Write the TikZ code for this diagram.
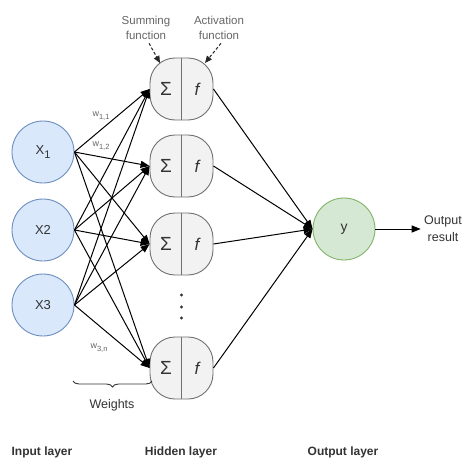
\documentclass[tikz,border=0pt]{standalone}
\usepackage{fontspec}
\setmainfont{Liberation Sans}
\usetikzlibrary{arrows.meta,decorations.pathreplacing}
\definecolor{inFill}{HTML}{DAE8FC}
\definecolor{inDraw}{HTML}{6C8EBF}
\definecolor{outFill}{HTML}{D5E8D4}
\definecolor{outDraw}{HTML}{82B366}
\definecolor{hidFill}{HTML}{F2F2F2}
\definecolor{hidDraw}{HTML}{707070}
\definecolor{txt}{HTML}{333333}
\definecolor{lbl}{HTML}{666666}
\begin{document}
\begin{tikzpicture}[x=1pt,y=-1pt,
  innode/.style={circle,draw=inDraw,fill=inFill,line width=0.9pt,minimum size=62pt,inner sep=0pt,text=txt,font=\fontsize{13}{15}\selectfont},
  outnode/.style={circle,draw=outDraw,fill=outFill,line width=0.9pt,minimum size=62pt,inner sep=0pt,text=txt,font=\fontsize{14}{16}\selectfont},
  hidnode/.style={rectangle,rounded corners=25pt,draw=hidDraw,fill=hidFill,line width=0.9pt,minimum width=63pt,minimum height=62pt,inner sep=0pt},
  arr/.style={-{Triangle[length=9pt,width=7pt]},line width=1pt,black},
  dasharr/.style={-{Triangle[length=7pt,width=6pt]},dash pattern=on 3pt off 2pt,line width=1pt,black!85},
  small/.style={text=lbl,font=\fontsize{11.5}{15}\selectfont,align=center},
  wlbl/.style={text=lbl,font=\fontsize{9}{10}\selectfont,inner sep=1pt},
  layer/.style={text=txt,font=\fontsize{12}{14}\selectfont\bfseries}
]
\useasboundingbox (0,0) rectangle (468,460);
\fill[white] (0,0) rectangle (468,460);

% input nodes
\node[innode] (x1) at (43,152) {X\raisebox{-4pt}{\fontsize{11}{11}\selectfont 1}};
\node[innode] (x2) at (43,230) {X2};
\node[innode] (x3) at (43,305) {X3};

% hidden nodes
\foreach \n/\yy in {1/89,2/166,3/244,4/368}{
  \node[hidnode] (h\n) at (181.5,\yy) {};
  \draw[hidDraw,line width=0.9pt] (h\n.north) -- (h\n.south);
  \node[text=txt,font=\fontsize{19}{20}\selectfont] (s\n) at (166,\yy) {Σ};
  \node[text=txt,font=\fontsize{17}{20}\selectfont\itshape] (f\n) at (197,\yy) {f};
}

% dots
\foreach \yy in {295,307,318}{\fill[txt] (181.5,\yy) circle (1.7pt);}

% output node
\node[outnode] (y) at (344,229) {y};
\node[text=txt,font=\fontsize{12.5}{17}\selectfont,align=center] (res) at (443,229) {Output\\result};

% input -> hidden
\foreach \i in {1,2,3}{
  \foreach \h in {1,2,3,4}{
    \draw[arr] (x\i.east) -- (h\h.west);
  }
}
% hidden -> output
\foreach \h in {1,2,3,4}{
  \draw[arr] (h\h.east) -- (y.west);
}
\draw[arr] (y.east) -- (res.west);

% function labels
\node[small] (sumlbl) at (146,28) {Summing\\function};
\node[small] (actlbl) at (219,28) {Activation\\function};
\coordinate (sumtip) at (160,63);
\coordinate (acttip) at (205,63);
\draw[dasharr] (sumlbl.south) ++(3,0) coordinate (sums) -- (sumtip);
\draw[dasharr] (actlbl.south) ++(2,0) coordinate (acts) -- (acttip);

% weight labels
\node[wlbl] (w11) at (101,116) {w\raisebox{-2.5pt}{\fontsize{7.5}{8}\selectfont 1,1}};
\node[wlbl] (w12) at (101,146) {w\raisebox{-2.5pt}{\fontsize{7.5}{8}\selectfont 1,2}};
\node[wlbl] (w3n) at (99,348) {w\raisebox{-2.5pt}{\fontsize{7.5}{8}\selectfont 3,n}};

% brace
\draw[txt,line width=0.9pt,decorate,decoration={brace,amplitude=6pt,mirror}] (73,381) -- (152,381);
\node[text=txt,font=\fontsize{12.5}{14}\selectfont] (wts) at (112,405) {Weights};

% layer labels
\node[layer] (il) at (42,452) {Input layer};
\node[layer] (hl) at (181,452) {Hidden layer};
\node[layer] (ol) at (343,452) {Output layer};
\end{tikzpicture}
\end{document}
